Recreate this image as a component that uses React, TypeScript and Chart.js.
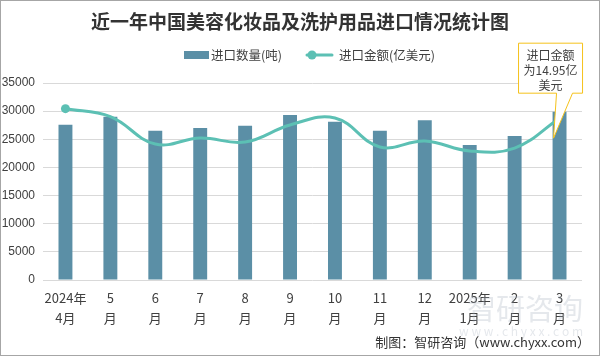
import React, { useEffect, useRef } from "react";
import { Chart, registerables } from "chart.js";

Chart.register(...registerables);

const TITLE = "近一年中国美容化妆品及洗护用品进口情况统计图";
const SERIES_QTY = "进口数量(吨)";
const SERIES_VAL = "进口金额(亿美元)";
const CATEGORIES: string[][] = [
  ["2024年", "4月"], ["5", "月"], ["6", "月"], ["7", "月"], ["8", "月"], ["9", "月"],
  ["10", "月"], ["11", "月"], ["12", "月"], ["2025年", "1月"], ["2", "月"], ["3", "月"],
];
const QTY = [27600, 29000, 26500, 27000, 27400, 29300, 28100, 26500, 28400, 24000, 25600, 29900];
const VALUE = [15.83, 15.09, 12.56, 13.12, 12.75, 14.32, 14.97, 12.29, 12.84, 11.92, 12.19, 14.95];
const CALLOUT = ["进口金额", "为14.95亿", "美元"];
const FOOTER = "制图：智研咨询（www.chyxx.com）";
const WATERMARK = "智研咨询";
const WATERMARK_URL = "w w w . c h y x x . c o m";

const BAR_COLOR = "#5b8fa6";
const LINE_COLOR = "#5cc0b4";
const FONT = '"Noto Sans CJK SC", "Noto Sans", sans-serif';
const NUM_FONT = '"Liberation Sans", Arial, sans-serif';

const decor = {
  id: "decor",
  beforeDraw(chart: any) {
    const ctx = chart.ctx;
    ctx.save();
    ctx.fillStyle = "#ffffff";
    ctx.fillRect(0, 0, chart.width, chart.height);
    ctx.restore();
  },
  afterDraw(chart: any) {
    const ctx = chart.ctx;
    ctx.save();
    // y-axis tick labels from the library's scale
    const ys = chart.scales.y;
    ctx.fillStyle = "#404040";
    ctx.font = `12px ${NUM_FONT}`;
    ctx.textAlign = "right";
    ctx.textBaseline = "middle";
    ys.ticks.forEach((t: any) => {
      ctx.fillText(String(t.value), chart.chartArea.left - 8, ys.getPixelForValue(t.value));
    });

    // watermark
    ctx.fillStyle = "rgba(160,172,185,0.28)";
    ctx.font = `29px ${FONT}`;
    ctx.textAlign = "right";
    ctx.fillText(WATERMARK, 583, 309);
    ctx.font = `12px ${FONT}`;
    ctx.fillText(WATERMARK_URL, 583, 331);

    // title
    ctx.fillStyle = "#333333";
    ctx.font = `bold 19px ${FONT}`;
    ctx.textAlign = "center";
    ctx.fillText(TITLE, 300, 22);

    // legend
    ctx.font = `12.5px ${FONT}`;
    ctx.textAlign = "left";
    ctx.fillStyle = BAR_COLOR;
    ctx.fillRect(184, 51, 25, 8);
    ctx.fillStyle = "#404040";
    ctx.fillText(SERIES_QTY, 211, 55);
    ctx.strokeStyle = LINE_COLOR;
    ctx.lineWidth = 3;
    ctx.lineCap = "round";
    ctx.beginPath();
    ctx.moveTo(307, 55);
    ctx.lineTo(332, 55);
    ctx.stroke();
    ctx.fillStyle = LINE_COLOR;
    ctx.beginPath();
    ctx.arc(312, 55, 4.5, 0, Math.PI * 2);
    ctx.fill();
    ctx.fillStyle = "#404040";
    ctx.fillText(SERIES_VAL, 339, 55);

    // callout anchored to last line point
    const meta = chart.getDatasetMeta(0);
    const pt = meta.data[meta.data.length - 1];
    if (pt) {
      const tipX = pt.x - 6;
      const tipY = pt.y + 20;
      const l = tipX - 35, r = tipX + 29, t = tipY - 95, b = tipY - 45;
      ctx.beginPath();
      ctx.moveTo(l, t);
      ctx.lineTo(r, t);
      ctx.lineTo(r, b);
      ctx.lineTo(tipX + 19, b);
      ctx.lineTo(tipX, tipY);
      ctx.lineTo(tipX + 3, b);
      ctx.lineTo(l, b);
      ctx.closePath();
      ctx.fillStyle = "#ffffff";
      ctx.fill();
      ctx.strokeStyle = "#f5c21b";
      ctx.lineWidth = 1;
      ctx.lineCap = "butt";
      ctx.stroke();
      ctx.fillStyle = "#404040";
      ctx.font = `12px ${FONT}`;
      ctx.textAlign = "center";
      const cx = (l + r) / 2;
      CALLOUT.forEach((s, i) => ctx.fillText(s, cx, t + 12 + i * 15));
    }

    // footer
    ctx.fillStyle = "#333333";
    ctx.font = `13px ${FONT}`;
    ctx.textAlign = "right";
    ctx.fillText(FOOTER, 590, 342);

    // border
    ctx.strokeStyle = "#a6a6a6";
    ctx.lineWidth = 1;
    ctx.strokeRect(0.5, 0.5, chart.width - 1, chart.height - 1);
    ctx.restore();
  },
};

export default function App() {
  const ref = useRef<HTMLCanvasElement>(null);
  useEffect(() => {
    if (!ref.current) return;
    const chart = new Chart(ref.current, {
      type: "bar",
      data: {
        labels: CATEGORIES,
        datasets: [
          {
            type: "line",
            label: SERIES_VAL,
            data: VALUE,
            yAxisID: "y1",
            borderColor: LINE_COLOR,
            backgroundColor: LINE_COLOR,
            borderWidth: 3,
            tension: 0.4,
            fill: false,
            pointRadius: VALUE.map((_, i) => (i === 0 ? 4.5 : 0)),
            pointBackgroundColor: LINE_COLOR,
            pointBorderWidth: 0,
            order: 0,
          } as any,
          {
            type: "bar",
            label: SERIES_QTY,
            data: QTY,
            yAxisID: "y",
            backgroundColor: BAR_COLOR,
            barPercentage: 0.31,
            categoryPercentage: 1,
            order: 1,
          },
        ],
      },
      plugins: [decor],
      options: {
        responsive: false,
        animation: false,
        layout: { padding: { top: 83, right: 18, left: 0, bottom: 0 } },
        plugins: {
          legend: { display: false },
          title: { display: false },
          tooltip: { enabled: false },
        },
        scales: {
          x: {
            grid: { display: false, drawTicks: false },
            border: { display: false },
            ticks: {
              color: "#404040",
              font: { family: FONT, size: 13, lineHeight: 1.54 },
              padding: 8,
              maxRotation: 0,
              autoSkip: false,
            },
            afterFit: (s: any) => { s.height = 76; },
          },
          y: {
            min: 0,
            max: 35000,
            ticks: {
              stepSize: 5000,
              display: false,
            },
            grid: { color: "#d9d9d9", drawTicks: false },
            border: { display: false },
            afterFit: (s: any) => { s.width = 43; },
          },
          y1: {
            display: false,
            min: 0,
            max: 18.2,
          },
        },
      },
    });
    return () => chart.destroy();
  }, []);
  return (
    <div style={{ position: "fixed", left: 0, top: 0, width: 600, height: 356 }}>
      <canvas ref={ref} width={600} height={356} style={{ display: "block" }} />
    </div>
  );
}
